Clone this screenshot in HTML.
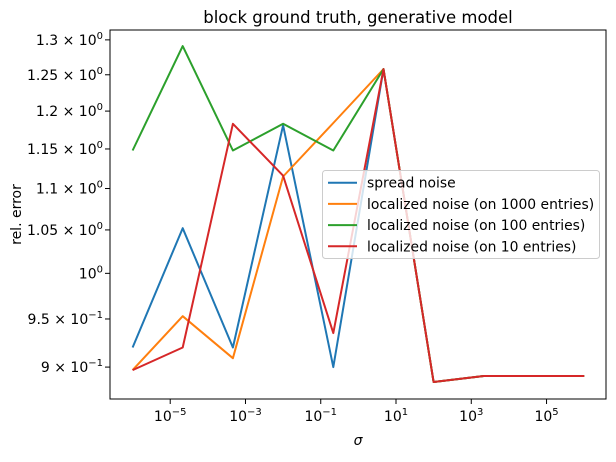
<!DOCTYPE html>
<html><head><meta charset="utf-8"><style>
body{margin:0;background:#fff;width:616px;height:457px;overflow:hidden}
text{font-family:"DejaVu Sans","Liberation Sans",sans-serif;fill:#000}
</style></head><body>
<svg id="chart" width="616" height="457" xmlns="http://www.w3.org/2000/svg"></svg>
<script>
const xLogs = [-6, -4.667, -3.333, -2, -0.667, 0.667, 2, 3.333, 4.667, 6];
const spreadNoise = [0.920, 1.052, 0.920, 1.181, 0.900, 1.258, 0.885, 0.891, 0.891, 0.891];
const local1000 = [0.897, 0.953, 0.909, 1.115, 1.184, 1.258, 0.885, 0.891, 0.891, 0.891];
const local100 = [1.148, 1.291, 1.148, 1.183, 1.148, 1.258, 0.885, 0.891, 0.891, 0.891];
const local10 = [0.897, 0.920, 1.183, 1.116, 0.935, 1.258, 0.885, 0.891, 0.891, 0.891];
const xTickExps = [-5, -3, -1, 1, 3, 5];
const yTickVals = [1.3, 1.25, 1.2, 1.15, 1.1, 1.05, 1.0, 0.95, 0.9];
const yTickMant = ["1.3", "1.25", "1.2", "1.15", "1.1", "1.05", "", "9.5", "9"];
const yTickExp = ["0", "0", "0", "0", "0", "0", "0", "−1", "−1"];
const seriesNames = ["spread noise", "localized noise (on 1000 entries)", "localized noise (on 100 entries)", "localized noise (on 10 entries)"];
const seriesColors = ["#1f77b4", "#ff7f0e", "#2ca02c", "#d62728"];

const svg = document.getElementById('chart');
const NS = 'http://www.w3.org/2000/svg';
const L = 110, R = 606, T = 30, B = 399;
const xmin = -6.6, xmax = 6.58;
const ymin = Math.log10(0.8683), ymax = Math.log10(1.3145);
const xs = l => L + (l - xmin) / (xmax - xmin) * (R - L);
const ys = v => B - (Math.log10(v) - ymin) / (ymax - ymin) * (B - T);
function mk(tag, attrs, parent) {
  const e = document.createElementNS(NS, tag);
  for (const k in attrs) e.setAttribute(k, attrs[k]);
  (parent || svg).appendChild(e);
  return e;
}
let t = mk('text', {x: 358, y: 23, 'text-anchor': 'middle', 'font-size': 16.5});


t.textContent = 'block ground truth, generative model';
const allSeries = [spreadNoise, local1000, local100, local10];
allSeries.forEach((s, i) => {
  const pts = s.map((v, j) => xs(xLogs[j]).toFixed(1) + ',' + ys(v).toFixed(1)).join(' ');
  const p = mk('polyline', {points: pts, fill: 'none', stroke: seriesColors[i], 'stroke-width': 2, 'stroke-linejoin': 'round'});
  
  
});
const box = mk('rect', {x: L, y: T, width: R - L, height: B - T, fill: 'none', stroke: '#000', 'stroke-width': 1});


xTickExps.forEach(e => {
  const x = xs(e);
  mk('line', {x1: x, y1: B, x2: x, y2: B + 5, stroke: '#000', 'stroke-width': 1});
  const tx = mk('text', {x: x, y: B + 22, 'text-anchor': 'middle', 'font-size': 14});
  
  
  tx.innerHTML = '10<tspan font-size="10" dy="-6">' + (e < 0 ? '−' + (-e) : e) + '</tspan>';
});
yTickVals.forEach((v, i) => {
  const y = ys(v);
  mk('line', {x1: L - 5, y1: y, x2: L, y2: y, stroke: '#000', 'stroke-width': 1});
  const tx = mk('text', {x: L - 7, y: y + 5, 'text-anchor': 'end', 'font-size': 14});
  
  
  tx.innerHTML = (yTickMant[i] ? yTickMant[i] + ' × ' : '') + '10<tspan font-size="10" dy="-6">' + yTickExp[i] + '</tspan>';
});
const xl = mk('text', {x: 358, y: 445, 'text-anchor': 'middle', 'font-size': 14, 'font-style': 'italic'});


xl.textContent = 'σ';
const yl = mk('text', {x: 0, y: 0, 'text-anchor': 'middle', 'font-size': 14, transform: 'translate(21,' + ((T + B) / 2) + ') rotate(-90)'});


yl.textContent = 'rel. error';
const lg = mk('g', {});


mk('rect', {x: 322.5, y: 170.5, width: 277, height: 88, rx: 3, fill: '#fff', 'fill-opacity': 0.8, stroke: '#ccc', 'stroke-width': 1}, lg);
seriesNames.forEach((n, i) => {
  const y = 182.7 + i * 21.2;
  const g = mk('g', {}, lg);
  
  
  mk('line', {x1: 328, y1: y, x2: 357, y2: y, stroke: seriesColors[i], 'stroke-width': 2}, g);
  const tx = mk('text', {x: 367, y: y + 5, 'font-size': 13.9}, g);
  tx.textContent = n;
});
</script>
</body></html>
